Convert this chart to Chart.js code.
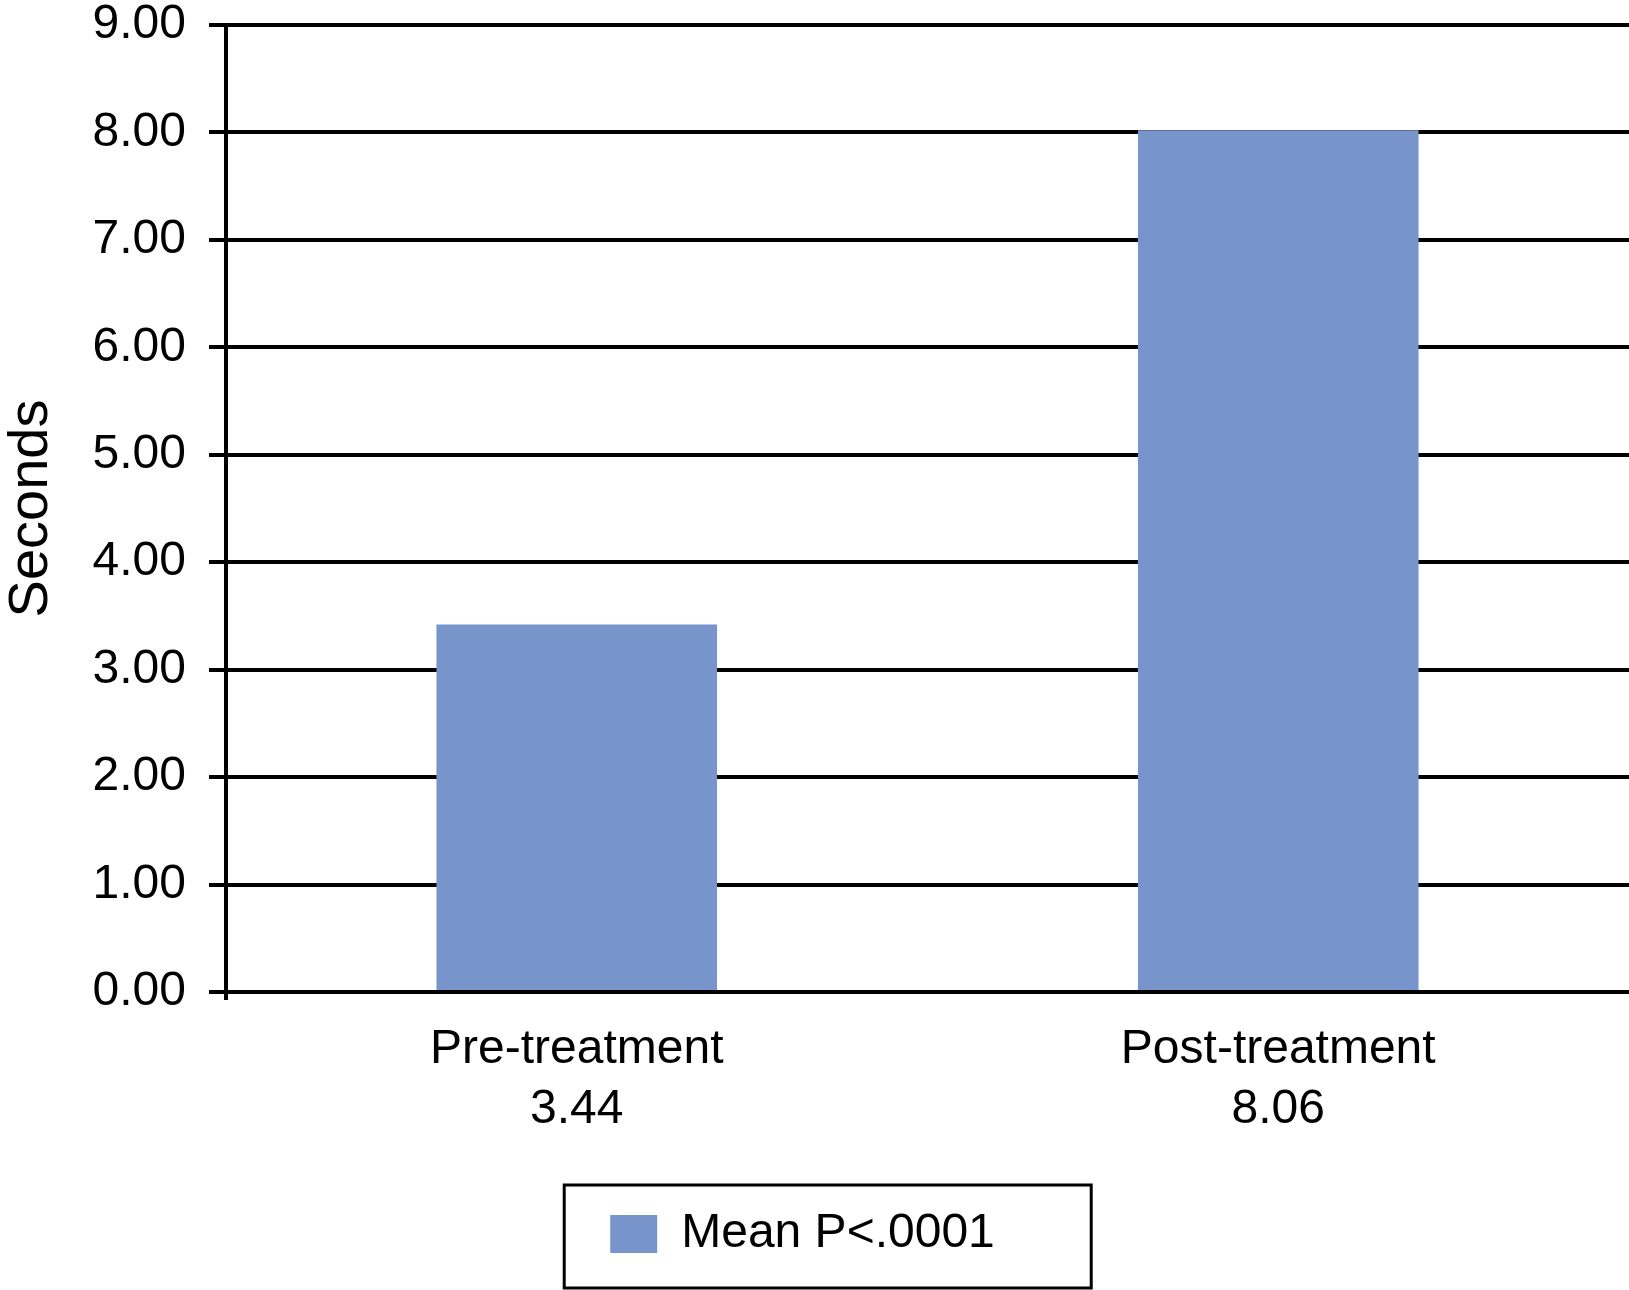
<!DOCTYPE html>
<html>
<head>
<meta charset="utf-8">
<script src="https://cdn.jsdelivr.net/npm/chart.js@4.4.1/dist/chart.umd.min.js"></script>
<style>
  html, body { margin: 0; padding: 0; background: #fff; }
  #wrap { width: 1629px; height: 1290px; position: relative; }
</style>
</head>
<body>
<div id="wrap"><canvas id="barChart"></canvas></div>
<script>
// chart values (bar heights as drawn in the figure)
const categories = ["Pre-treatment", "Post-treatment"];
const valueLabels = ["3.44", "8.06"];
const meanSeconds = [3.42, 8.02];
const seriesName = "Mean P<.0001";
const yTicks = [0, 1, 2, 3, 4, 5, 6, 7, 8, 9];

const FONT = "'Liberation Sans', Arial, Helvetica, sans-serif";
const barColor = "#7794cb";
const LEGEND_SHIFT = 12; // legend sits a bit left of centre in the original

// box round the legend (chart.js has no legend border) + small nudge left
const legendBorder = {
    id: 'legendBorder',
    afterUpdate(chart) {
        const lg = chart.legend;
        lg.left -= LEGEND_SHIFT;
        lg.right -= LEGEND_SHIFT;
        lg.legendHitBoxes.forEach(h => { h.left -= LEGEND_SHIFT; });
    },
    afterDraw(chart) {
        const hit = chart.legend.legendHitBoxes[0];
        if (!hit) return;
        const ctx = chart.ctx;
        ctx.save();
        ctx.strokeStyle = '#000';
        ctx.lineWidth = 3;
        ctx.strokeRect(hit.left - 46, hit.top - 25, 527, 103);
        ctx.restore();
    }
};

const ctx = document.getElementById('barChart').getContext('2d');
const myChart = new Chart(ctx, {
    type: 'bar',
    data: {
        labels: categories.map((c, i) => [c, valueLabels[i]]),
        datasets: [{
            label: seriesName,
            data: meanSeconds,
            backgroundColor: barColor,
            borderWidth: 0,
            barPercentage: 0.4,
            categoryPercentage: 1.0
        }]
    },
    options: {
        responsive: true,
        maintainAspectRatio: false,
        devicePixelRatio: 1,
        animation: false,
        layout: { padding: { top: 0, right: 0, left: 0, bottom: 22 } },
        plugins: {
            tooltip: { enabled: false },
            legend: {
                position: 'bottom',
                labels: {
                    color: '#000',
                    font: { family: FONT, size: 48 },
                    boxWidth: 47,
                    boxHeight: 38,
                    padding: 30
                }
            }
        },
        scales: {
            x: {
                offset: true,
                grid: {
                    display: true,
                    drawOnChartArea: false,
                    tickLength: 8,
                    lineWidth: 4,
                    color: c => c.index === 0 ? '#000' : 'rgba(0,0,0,0)'
                },
                border: { display: true, color: '#000', width: 4 },
                ticks: {
                    color: '#000',
                    font: { family: FONT, size: 48, lineHeight: 1.25 },
                    padding: 20,
                    maxRotation: 0
                },
                afterFit: s => { s.height = 188; }
            },
            y: {
                min: 0,
                max: 9,
                afterBuildTicks: s => { s.ticks = yTicks.map(v => ({ value: v })); },
                grid: { color: '#000', lineWidth: 4, tickLength: 17 },
                border: { display: true, color: '#000', width: 4 },
                ticks: {
                    color: '#000',
                    font: { family: FONT, size: 48 },
                    padding: 23,
                    callback: v => Number(v).toFixed(2)
                },
                title: {
                    display: true,
                    text: 'Seconds',
                    color: '#000',
                    font: { family: FONT, size: 56, lineHeight: 1.0 },
                    padding: { top: 4, bottom: 0 }
                },
                afterFit: s => { s.width = 226; s.paddingTop = 25; }
            }
        }
    },
    plugins: [legendBorder]
});
</script>
</body>
</html>
